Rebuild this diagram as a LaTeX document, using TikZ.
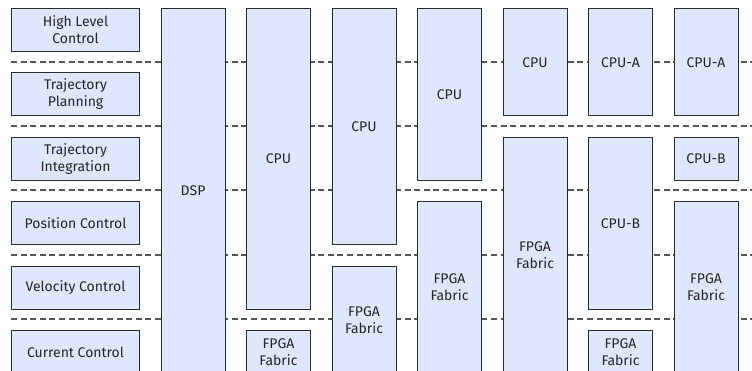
\documentclass[tikz,border=0pt]{standalone}
\usepackage{fontspec}
\setmainfont{Fira Sans}
\definecolor{boxfill}{HTML}{DFE7FC}
\definecolor{boxline}{HTML}{2B2B2B}
\definecolor{sepline}{HTML}{555555}
\tikzset{
  blk/.style={draw=boxline, fill=boxfill, line width=1pt, inner sep=0pt,
    align=center, anchor=north west, text=black!85,
    font=\fontsize{14}{17}\selectfont},
  lvl/.style={blk, minimum width=128pt, minimum height=43pt},
  col/.style={blk, minimum width=64pt},
  sep/.style={draw=sepline, line width=1.5pt, dash pattern=on 6pt off 3.6pt}
}
\begin{document}
\begin{tikzpicture}[x=1pt, y=-1pt]
\useasboundingbox (0,0) rectangle (752,370);
\clip (0,0) rectangle (752,370);
\fill[white] (0,0) rectangle (752,370);
% separators
\foreach \yy/\nm in {62/s1,126/s2,190/s3,255/s4,319/s5}{
  \coordinate (\nm l) at (11,\yy);
  \coordinate (\nm r) at (760,\yy);
  \draw[sep] (\nm l) -- (\nm r);
}
% level boxes
\node[lvl] (hlc) at (11,8) {High Level\\Control};
\node[lvl] (tp) at (11,72.4) {Trajectory\\Planning};
\node[lvl] (ti) at (11,136.8) {Trajectory\\Integration};
\node[lvl] (pc) at (11,201.2) {Position Control};
\node[lvl] (vc) at (11,265.6) {Velocity Control};
\node[lvl] (cc) at (11,330) {Current Control};
% column 0
\node[col, minimum height=365pt] (dsp) at (160.5,8) {DSP};
% column 1
\node[col, minimum height=300.6pt] (cpu1) at (246,8) {CPU};
\node[col, minimum height=43pt] (fp1) at (246,330) {FPGA\\Fabric};
% column 2
\node[col, minimum height=236.2pt] (cpu2) at (331.5,8) {CPU};
\node[col, minimum height=107.4pt] (fp2) at (331.5,265.6) {FPGA\\Fabric};
% column 3
\node[col, minimum height=171.8pt] (cpu3) at (417,8) {CPU};
\node[col, minimum height=171.8pt] (fp3) at (417,201.2) {FPGA\\Fabric};
% column 4
\node[col, minimum height=107.4pt] (cpu4) at (502.5,8) {CPU};
\node[col, minimum height=236.2pt] (fp4) at (502.5,136.8) {FPGA\\Fabric};
% column 5
\node[col, minimum height=107.4pt] (cpua5) at (588,8) {CPU-A};
\node[col, minimum height=171.8pt] (cpub5) at (588,136.8) {CPU-B};
\node[col, minimum height=43pt] (fp5) at (588,330) {FPGA\\Fabric};
% column 6
\node[col, minimum height=107.4pt] (cpua6) at (673.5,8) {CPU-A};
\node[col, minimum height=43pt] (cpub6) at (673.5,136.8) {CPU-B};
\node[col, minimum height=171.8pt] (fp6) at (673.5,201.2) {FPGA\\Fabric};
\end{tikzpicture}
\end{document}
